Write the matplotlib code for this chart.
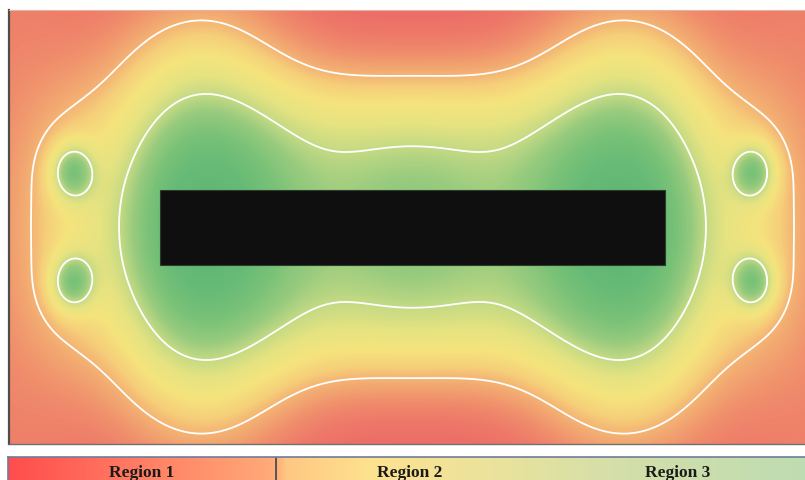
import numpy as np
import matplotlib
matplotlib.use("Agg")
import matplotlib.pyplot as plt
from matplotlib.colors import LinearSegmentedColormap, Normalize
from matplotlib.patches import Rectangle

# ---- field sources (plot units, origin at the centre of the block) ----
# strong emitters at the four corners of the block's end sections
corner_x = [-212, -212, 212, 212]
corner_y = [-37, 37, -37, 37]
corner_amp = 1.0
corner_sigma = (60, 100)
wing_amp = 0.08
wing_sigma = (150, 150)

# plateau along the middle of the block
bar_amp = 0.82
bar_reach = (163, 141)
bar_shape = (4.0, 3.2)

centre_amp = 0.36
centre_sigma = (58, 75)

# weak background along the left and right borders
side_x = [-403, 403]
side_amp = 0.13
side_sigma = (60, 400)

# four small satellite pods
pod_x = [-340, -340, 340, 340]
pod_y = [-55, 55, -55, 55]
pod_amp = 0.90
pod_sigma = (14, 18.4)
pod_halo_amp = 0.18
pod_halo_sigma = (35, 60)

# contour levels separating the three regions
region_levels = [0.356, 1.0]

# obstacle block
block_x0, block_y0, block_w, block_h = -252.5, -38.0, 505.0, 75.0

# colour scale of the field
field_stops = [0.05, 0.12, 0.20, 0.28, 0.356, 0.45, 0.60, 0.80, 1.00, 1.20, 1.45, 1.75, 2.00]
field_colors = ['#ec6b67', '#ee7a69', '#f08f6c', '#f2a470', '#f4b574', '#f6d07a',
                '#f5e37d', '#e6e381', '#c4da84', '#98cb7e', '#7ac278', '#68bb76', '#60b773']

# legend strip
region_labels = ['Region 1', 'Region 2', 'Region 3']
legend_stops = [0.0, 0.15, 0.32, 0.335, 0.345, 0.45, 0.60, 0.75, 1.0]
legend_colors = ['#ff4d4d', '#ff7a62', '#ffa877', '#ffb27a', '#ffc783',
                 '#fde28f', '#ebe39c', '#d5dfa8', '#bedcb2']

x_half, y_half = 403.5, 217.0


def gauss(X, Y, cx, cy, amp, sig):
    return amp * np.exp(-((X - cx) ** 2) / (2 * sig[0] ** 2)
                        - ((Y - cy) ** 2) / (2 * sig[1] ** 2))


xs = np.linspace(-x_half, x_half, 808)
ys = np.linspace(-y_half, y_half, 435)
X, Y = np.meshgrid(xs, ys)

F = bar_amp * np.exp(-(np.abs(X) / bar_reach[0]) ** bar_shape[0]
                     - (np.abs(Y) / bar_reach[1]) ** bar_shape[1])
F += gauss(X, Y, 0, 0, centre_amp, centre_sigma)
for cx, cy in zip(corner_x, corner_y):
    F += gauss(X, Y, cx, cy, corner_amp, corner_sigma)
    F += gauss(X, Y, cx, cy, wing_amp, wing_sigma)
for cx in side_x:
    F += gauss(X, Y, cx, 0, side_amp, side_sigma)
for cx, cy in zip(pod_x, pod_y):
    F += gauss(X, Y, cx, cy, pod_amp, pod_sigma)
    F += gauss(X, Y, cx, cy, pod_halo_amp, pod_halo_sigma)

lo, hi = field_stops[0], field_stops[-1]
cmap = LinearSegmentedColormap.from_list(
    'field', [((s - lo) / (hi - lo), c) for s, c in zip(field_stops, field_colors)])

W, H = 805, 481
fig = plt.figure(figsize=(W / 100, H / 100), dpi=100)
fig.patch.set_facecolor('white')

ax = fig.add_axes([9 / W, 36 / H, 807 / W, 434 / H])
ax.imshow(F, cmap=cmap, norm=Normalize(lo, hi), origin='lower',
          extent=[-x_half, x_half, -y_half, y_half], aspect='auto',
          interpolation='bilinear')
ax.contour(X, Y, F, levels=region_levels, colors='white', linewidths=1.3)
ax.add_patch(Rectangle((block_x0, block_y0), block_w, block_h,
                       facecolor='#0f0f0f', edgecolor='#2b3a2b', lw=0.8, zorder=3))
ax.set_xlim(-x_half, x_half)
ax.set_ylim(-y_half, y_half)
ax.set_xticks([])
ax.set_yticks([])
ax.spines['left'].set_color('#4d4d4d')
ax.spines['left'].set_linewidth(1.6)
ax.spines['bottom'].set_color('#707070')
ax.spines['bottom'].set_linewidth(1.0)
ax.spines['top'].set_color('#e6b49c')
ax.spines['top'].set_linewidth(0.8)
ax.spines['right'].set_visible(False)

# legend strip with a continuous colour ramp
lax = fig.add_axes([8 / W, -9 / H, 804 / W, 32 / H])
lcmap = LinearSegmentedColormap.from_list('legend', list(zip(legend_stops, legend_colors)))
lax.imshow(np.linspace(0, 1, 600)[None, :], cmap=lcmap, aspect='auto',
           extent=[0, 1, 0, 1], interpolation='bilinear')
lax.set_xlim(0, 1)
lax.set_ylim(0, 1)
lax.set_xticks([])
lax.set_yticks([])
for side in ['top', 'left', 'bottom', 'right']:
    lax.spines[side].set_color('#6f7d99')
    lax.spines[side].set_linewidth(1.2)
lax.axvline(1 / 3, color='#555555', lw=1.4)
for i, lab in enumerate(region_labels):
    lax.text((i + 0.5) / 3, 0.42, lab, ha='center', va='baseline',
             family=['Liberation Serif', 'DejaVu Serif'], fontweight='bold',
             fontsize=12.5, color='#1a1a1a')

fig.savefig('out.png', dpi=100)
